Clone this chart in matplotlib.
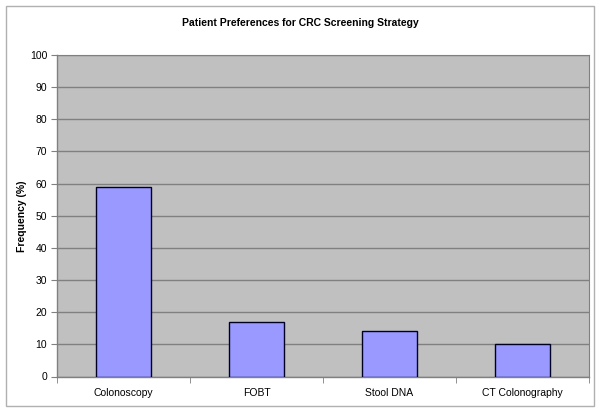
import matplotlib
matplotlib.use("Agg")
import matplotlib.pyplot as plt
from matplotlib.patches import Rectangle

categories = ["Colonoscopy", "FOBT", "Stool DNA", "CT Colonography"]
values = [59, 17, 14, 10]
yticks = list(range(0, 101, 10))

plt.rcParams['font.family'] = ['Liberation Sans', 'DejaVu Sans']

fig = plt.figure(figsize=(6, 4.12), dpi=100)
fig.patches.append(Rectangle((6/600, 6/412), 588/600, 400/412, transform=fig.transFigure,
                             fill=False, edgecolor='#b0b0b0', linewidth=1))
ax = fig.add_axes([57/600, 1 - 376.5/412, (589-57)/600, (376.5-55)/412])
ax.set_facecolor('#C0C0C0')
x = list(range(len(categories)))
ax.bar(x, values, width=0.41, color='#9999FF', edgecolor='#000022', linewidth=1, zorder=3)
ax.set_xlim(-0.5, len(categories) - 0.5)
ax.set_ylim(0, 100)
ax.set_yticks(yticks)
ax.set_yticklabels([str(t) for t in yticks], fontsize=7.5)
ax.set_xticks(x)
ax.set_xticklabels(categories, fontsize=7.5)
ax.tick_params(axis='x', length=0, pad=8)
ax.set_xticks([i + 0.5 for i in range(-1, len(categories))], minor=True)
ax.tick_params(axis='x', which='minor', length=4, color='#808080', direction='out')
ax.tick_params(axis='y', length=4, color='#808080', pad=3)
ax.grid(axis='y', color='#808080', linewidth=1, zorder=1)
for s in ['top', 'right']:
    ax.spines[s].set_color('#808080')
    ax.spines[s].set_linewidth(0.8)
for s in ['left', 'bottom']:
    ax.spines[s].set_color('#808080')
    ax.spines[s].set_linewidth(1)
ax.set_ylabel('Frequency (%)', fontsize=7.5, fontweight='bold', va='center')
ax.yaxis.set_label_coords(-(57 - 22) / 532, 0.5)
fig.text(0.5, 1 - 23/412, 'Patient Preferences for CRC Screening Strategy',
         ha='center', va='center', fontsize=7.5, fontweight='bold')
fig.savefig('out.png', dpi=100)
